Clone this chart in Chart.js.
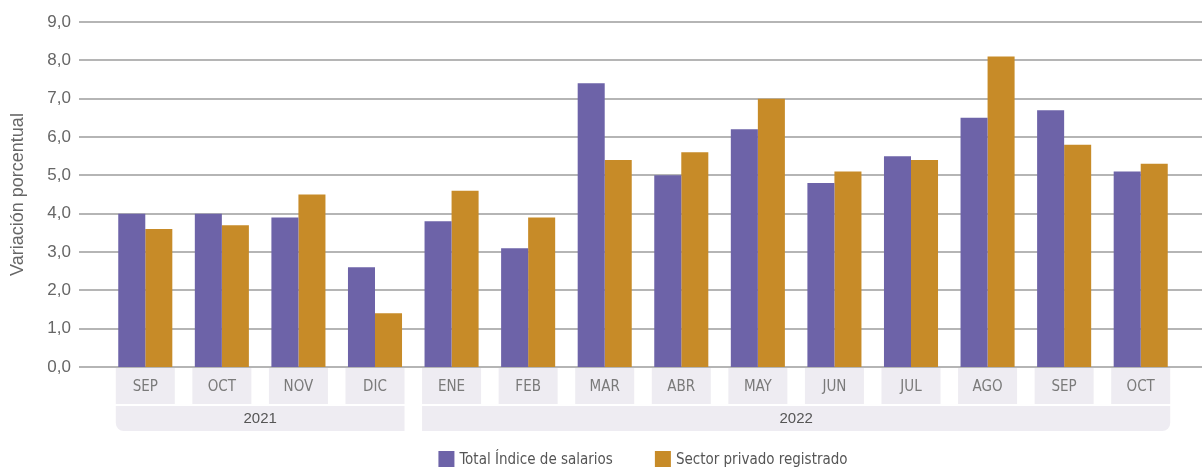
<!DOCTYPE html>
<html>
<head>
<meta charset="utf-8">
<script src="https://cdn.jsdelivr.net/npm/chart.js@4.4.0/dist/chart.umd.min.js"></script>
<style>
  html, body { margin: 0; padding: 0; background: #fff; }
  #wrap { width: 1202px; height: 468px; }
</style>
</head>
<body>
<div id="wrap"><canvas id="chart"></canvas></div>
<script>
// data
const months = ['SEP', 'OCT', 'NOV', 'DIC', 'ENE', 'FEB', 'MAR', 'ABR', 'MAY', 'JUN', 'JUL', 'AGO', 'SEP', 'OCT'];
const years = ['2021', '2022'];
const yearSpans = [4, 10];
const totalIndice = [4.0, 4.0, 3.9, 2.6, 3.8, 3.1, 7.4, 5.0, 6.2, 4.8, 5.5, 6.5, 6.7, 5.1];
const sectorPrivado = [3.6, 3.7, 4.5, 1.4, 4.6, 3.9, 5.4, 5.6, 7.0, 5.1, 5.4, 8.1, 5.8, 5.3];
const yMin = 0;
const yMax = 9;
const yStep = 1;

const narrow = "'Liberation Sans Narrow', 'DejaVu Sans Condensed', sans-serif";
const plain = "'Liberation Sans', Arial, sans-serif";

// grid lines, month/year boxes and legend
const decor = {
    id: 'decor',
    beforeDatasetsDraw(chart) {
        const { ctx, chartArea, scales: { y } } = chart;
        ctx.save();
        ctx.strokeStyle = '#b5b5b5';
        ctx.lineWidth = 2;
        y.ticks.forEach(t => {
            const py = Math.round(y.getPixelForValue(t.value));
            ctx.beginPath();
            ctx.moveTo(chartArea.left - 28, py);
            ctx.lineTo(chart.width, py);
            ctx.stroke();
        });
        ctx.restore();
    },
    afterDraw(chart) {
        const { ctx, chartArea, scales: { x } } = chart;
        const half = 29.5;
        const top = chartArea.bottom + 1;
        ctx.save();

        // month boxes
        months.forEach((m, i) => {
            const cx = x.getPixelForValue(i);
            ctx.fillStyle = '#eeecf2';
            ctx.fillRect(cx - half, top, half * 2, 36);
            ctx.fillStyle = '#7a7a7a';
            ctx.font = '15px ' + narrow;
            ctx.textAlign = 'center';
            ctx.textBaseline = 'middle';
            ctx.fillText(m, cx, top + 19);
        });

        // year boxes
        let start = 0;
        years.forEach((yr, k) => {
            const end = start + yearSpans[k] - 1;
            const l = x.getPixelForValue(start) - half;
            const r = x.getPixelForValue(end) + half;
            const radii = k === 0 ? [0, 0, 0, 8] : (k === years.length - 1 ? [0, 0, 8, 0] : 0);
            ctx.fillStyle = '#eeecf2';
            ctx.beginPath();
            ctx.roundRect(l, top + 38, r - l, 25, radii);
            ctx.fill();
            ctx.fillStyle = '#555';
            ctx.font = '15px ' + plain;
            ctx.textAlign = 'center';
            ctx.textBaseline = 'middle';
            ctx.fillText(yr, (l + r) / 2, top + 51);
            start = end + 1;
        });

        // legend
        ctx.font = '15px ' + narrow;
        const items = chart.data.datasets.map(ds => ({ label: ds.label, color: ds.backgroundColor, w: ctx.measureText(ds.label).width }));
        const box = 16, gap = 5, between = 42;
        const total = items.reduce((s, it) => s + box + gap + it.w, 0) + between * (items.length - 1);
        let lx = (chartArea.left + chartArea.right) / 2 - total / 2;
        const ly = 451;
        items.forEach(it => {
            ctx.fillStyle = it.color;
            ctx.fillRect(lx, ly, box, box);
            ctx.fillStyle = '#555';
            ctx.textAlign = 'left';
            ctx.textBaseline = 'middle';
            ctx.fillText(it.label, lx + box + gap, ly + 9);
            lx += box + gap + it.w + between;
        });
        ctx.restore();
    }
};

new Chart(document.getElementById('chart'), {
    type: 'bar',
    data: {
        labels: months,
        datasets: [
            {
                label: 'Total Índice de salarios',
                data: totalIndice,
                backgroundColor: '#6d63a8',
                categoryPercentage: 0.706,
                barPercentage: 1.0
            },
            {
                label: 'Sector privado registrado',
                data: sectorPrivado,
                backgroundColor: '#c78b28',
                categoryPercentage: 0.706,
                barPercentage: 1.0
            }
        ]
    },
    options: {
        responsive: true,
        maintainAspectRatio: false,
        animation: false,
        layout: { padding: { top: 22, right: 23, bottom: 101, left: 0 } },
        plugins: {
            legend: { display: false },
            tooltip: { enabled: false }
        },
        scales: {
            x: { display: false },
            y: {
                min: yMin,
                max: yMax,
                afterFit(scale) {
                    scale.width = 107;
                    scale.paddingTop = 0;
                    scale.paddingBottom = 0;
                },
                border: { display: false },
                grid: { display: false, drawTicks: false },
                ticks: {
                    stepSize: yStep,
                    padding: 36,
                    color: '#666',
                    font: { size: 17, family: plain },
                    callback: v => v.toFixed(1).replace('.', ',')
                },
                title: {
                    display: true,
                    text: 'Variación porcentual',
                    color: '#666',
                    font: { size: 18, family: plain },
                    padding: { top: 7, bottom: 0 }
                }
            }
        }
    },
    plugins: [decor]
});
</script>
</body>
</html>
